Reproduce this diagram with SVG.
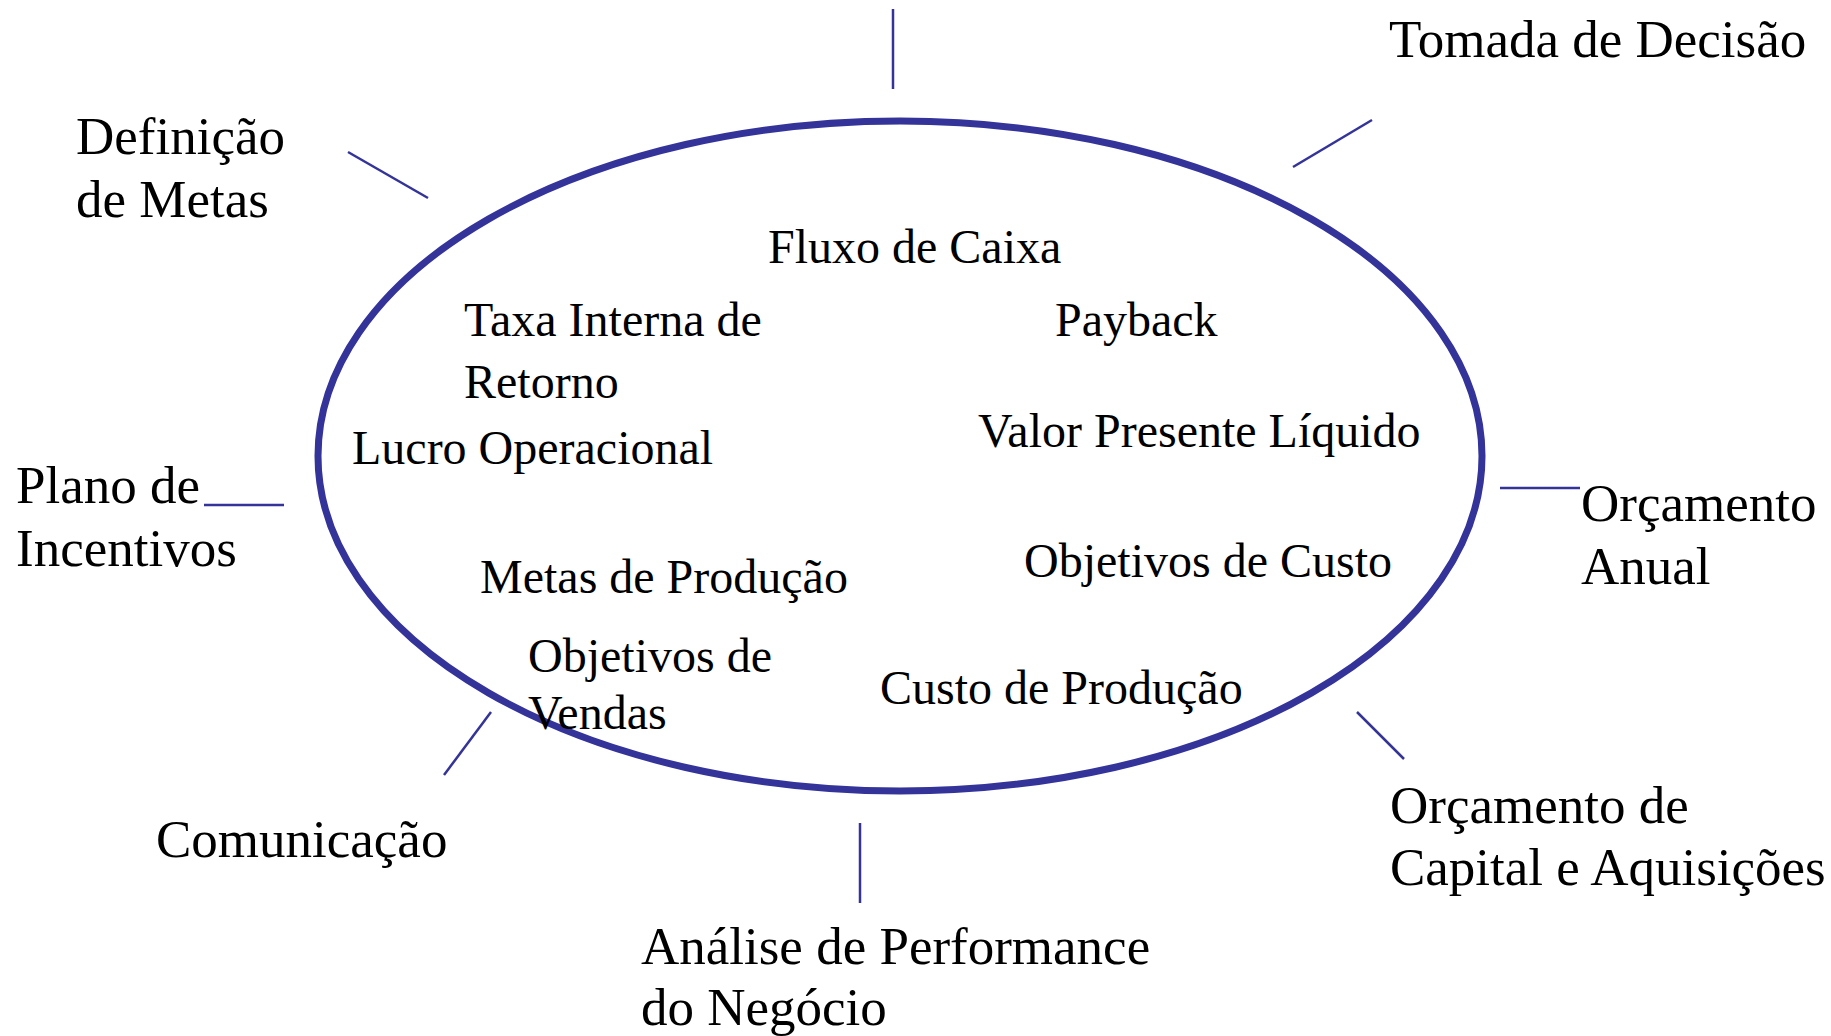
<svg xmlns="http://www.w3.org/2000/svg" width="1831" height="1036" viewBox="0 0 1831 1036">
<style>
text{font-family:"Liberation Serif","Times New Roman",serif;fill:#000}
.o{font-size:53px}
.i{font-size:48px}
.c{stroke:#333399;stroke-width:2.5;fill:none}
</style>
<rect width="1831" height="1036" fill="#fff"/>
<g id="center">
<ellipse cx="900" cy="456" rx="582" ry="335" fill="none" stroke="#333399" stroke-width="7"/>
</g>
<g id="connectors">
<line class="c" x1="893" y1="9" x2="893" y2="89"/>
<line class="c" x1="348" y1="152" x2="428" y2="198"/>
<line class="c" x1="1372" y1="120" x2="1293" y2="167"/>
<line class="c" x1="204" y1="505" x2="284" y2="505"/>
<line class="c" x1="1500" y1="488" x2="1580" y2="488"/>
<line class="c" x1="491" y1="712" x2="444" y2="775"/>
<line class="c" x1="860" y1="823" x2="860" y2="903"/>
<line class="c" x1="1357" y1="712" x2="1404" y2="759"/>
</g>
<g id="inner">
<text class="i" x="768" y="263">Fluxo de Caixa</text>
<text class="i" x="464" y="336">Taxa Interna de</text>
<text class="i" x="464" y="398">Retorno</text>
<text class="i" x="1055" y="336">Payback</text>
<text class="i" x="352" y="464">Lucro Operacional</text>
<text class="i" x="978" y="447">Valor Presente Líquido</text>
<text class="i" x="480" y="593">Metas de Produção</text>
<text class="i" x="1024" y="577">Objetivos de Custo</text>
<text class="i" x="528" y="672">Objetivos de</text>
<text class="i" x="528" y="729">Vendas</text>
<text class="i" x="880" y="704">Custo de Produção</text>
</g>
<g id="n-definicao">
<text class="o" x="76" y="154">Definição</text>
<text class="o" x="76" y="217">de Metas</text>
</g>
<g id="n-tomada">
<text class="o" x="1389" y="57">Tomada de Decisão</text>
</g>
<g id="n-plano">
<text class="o" x="16" y="503">Plano de</text>
<text class="o" x="16" y="566">Incentivos</text>
</g>
<g id="n-orcamento-anual">
<text class="o" x="1581" y="521">Orçamento</text>
<text class="o" x="1581" y="584">Anual</text>
</g>
<g id="n-comunicacao">
<text class="o" x="156" y="857">Comunicação</text>
</g>
<g id="n-analise">
<text class="o" x="641" y="964">Análise de Performance</text>
<text class="o" x="641" y="1025">do Negócio</text>
</g>
<g id="n-orcamento-capital">
<text class="o" x="1390" y="823">Orçamento de</text>
<text class="o" x="1390" y="885">Capital e Aquisições</text>
</g>
</svg>
